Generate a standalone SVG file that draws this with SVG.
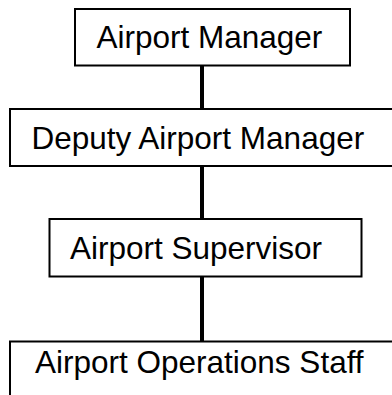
<svg xmlns="http://www.w3.org/2000/svg" width="392" height="395" viewBox="0 0 392 395">
  <style>
    .box { fill: #ffffff; stroke: #000000; stroke-width: 2; }
    .label { font-family: "Liberation Sans", Arial, sans-serif; font-size: 31.5px; fill: #000000; }
    .link { stroke: #000000; stroke-width: 4; fill: none; }
  </style>
  <rect width="392" height="395" fill="#ffffff"/>
  <g id="connectors">
    <line class="link" x1="202" y1="65" x2="202" y2="109"/>
    <line class="link" x1="202" y1="166" x2="202" y2="219"/>
    <line class="link" x1="202" y1="277" x2="202" y2="341"/>
  </g>
  <g id="airport-manager">
    <rect class="box" x="75" y="9" width="275" height="56.5"/>
    <text class="label" x="96.5" y="48.3">Airport Manager</text>
  </g>
  <g id="deputy-airport-manager">
    <rect class="box" x="10" y="109" width="390" height="57"/>
    <text class="label" x="31.5" y="148.5">Deputy Airport Manager</text>
  </g>
  <g id="airport-supervisor">
    <rect class="box" x="49.5" y="219" width="312" height="57.5"/>
    <text class="label" x="70" y="259">Airport Supervisor</text>
  </g>
  <g id="airport-operations-staff">
    <rect class="box" x="10" y="341.5" width="390" height="60"/>
    <text class="label" x="35" y="373.3">Airport Operations Staff</text>
  </g>
</svg>
